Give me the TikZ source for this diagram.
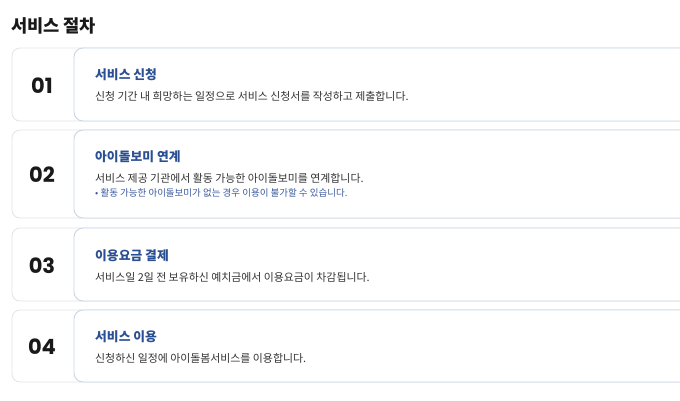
\documentclass[tikz,border=0pt]{standalone}
\usepackage{fontspec}
\setmainfont{Noto Sans CJK KR}
\newfontfamily\numfont{Poppins}
\usetikzlibrary{positioning}

\definecolor{boxline}{HTML}{E0E4EA}
\definecolor{cardline}{HTML}{C9D6E8}
\definecolor{stepblue}{HTML}{2B4F93}
\definecolor{noteblue}{HTML}{3C5C9F}
\definecolor{desctext}{HTML}{333333}

\begin{document}
\begin{tikzpicture}[x=1pt,y=-1pt]
		\tikzstyle{outer box}=[draw=boxline,fill=white,rounded corners=8pt,line width=0.8pt,minimum width=688pt,inner sep=0pt]
		\tikzstyle{card}=[draw=cardline,fill=white,rounded corners=9pt,line width=0.9pt,minimum width=626pt,inner sep=0pt]
		\tikzstyle{step num}=[font=\numfont\bfseries\fontsize{21}{21}\selectfont,text=black!90]
		\tikzstyle{step title}=[anchor=west,inner sep=0pt,font=\bfseries\fontsize{12.8}{12.8}\selectfont,text=stepblue]
		\tikzstyle{step desc}=[anchor=west,inner sep=0pt,font=\fontsize{10.9}{10.9}\selectfont,text=desctext]
		\tikzstyle{step note}=[anchor=west,inner sep=0pt,font=\fontsize{9.5}{9.5}\selectfont,text=noteblue]
		
		\useasboundingbox (0,0) rectangle (680,400);
		\clip (0,0) rectangle (680,400);
		\fill[white] (0,0) rectangle (680,400);
		
		% Heading
		\node[anchor=west,inner sep=0pt,font=\bfseries\fontsize{17.6}{17.6}\selectfont,text=black!90] (head) at (11,26) {서비스 절차};
		
		% Draw the step boxes, numbers and texts
		\foreach \i / \cy / \h / \ty / \dy / \title / \desc in {
			1/84.5/73/75/96/서비스 신청/신청 기간 내 희망하는 일정으로 서비스 신청서를 작성하고 제출합니다.,
			2/174/88/157/178/아이돌보미 연계/서비스 제공 기관에서 활동 가능한 아이돌보미를 연계합니다.,
			3/264.5/73/256/277/이용요금 결제/서비스일 2일 전 보유하신 예치금에서 이용요금이 차감됩니다.,
			4/346/72/337/358/서비스 이용/신청하신 일정에 아이돌봄서비스를 이용합니다.}
		{
			\node[outer box,minimum height=\h pt] (S-\i) at (356,\cy) {};
			\node[card,minimum height=\h pt] (C-\i) at (387,\cy) {};
			\node[step num] (N-\i) at (42,\cy+1) {0\i};
			\node[step title] (T-\i) at (95,\ty) {\title};
			\node[step desc] (D-\i) at (95,\dy) {\desc};
		}
		
		% Extra note for the second step
		\node[step note] (E-2) at (95,193) {• 활동 가능한 아이돌보미가 없는 경우 이용이 불가할 수 있습니다.};
\end{tikzpicture}
\end{document}
